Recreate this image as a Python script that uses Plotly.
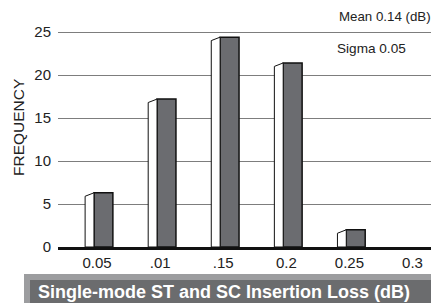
import plotly.graph_objects as go

categories = ["0.05", ".01", ".15", "0.2", "0.25", "0.3"]
frequency = [6.3, 17.2, 24.4, 21.4, 2.0, 0]
y_ticks = [0, 5, 10, 15, 20, 25]
mean_text = "Mean 0.14 (dB)"
sigma_text = "Sigma 0.05"
banner_text = "Single-mode ST and SC Insertion Loss (dB)"
y_title = "FREQUENCY"

# page has an 8px body margin; figure fills the rest of the 439x308 window
OFF = 8
PAGE_W, PAGE_H = 439, 308
W, H = PAGE_W - OFF, PAGE_H - OFF
PLOT_L, PLOT_R, PLOT_T, PLOT_B = 58, 439, 8, 247   # page pixel coords
L, R, T, B = PLOT_L - OFF, PAGE_W - PLOT_R, PLOT_T - OFF, PAGE_H - PLOT_B
PW, PH = PLOT_R - PLOT_L, PLOT_B - PLOT_T
YMAX = PH / 8.6

def px(x):
    return (x - PLOT_L) / PW

def py(y):
    return (PLOT_B - y) / PH

FONT = "Liberation Sans, Arial, sans-serif"

fig = go.Figure()

# white side faces of 3D bars (built from the data values)
xs, ys = [], []
for i, v in enumerate(frequency):
    if v <= 0:
        continue
    x0, x1 = i - 0.19, i - 0.05
    xs += [x0, x0, x1, x1, x0, None]
    ys += [0, v - 0.4, v, 0, 0, None]
fig.add_trace(go.Scatter(x=xs, y=ys, mode="lines", fill="toself",
                         fillcolor="white", line=dict(color="#111", width=1),
                         hoverinfo="skip", showlegend=False))

idx = [i for i, v in enumerate(frequency) if v > 0]
fig.add_trace(go.Bar(x=idx, y=[frequency[i] for i in idx], width=0.30, offset=-0.05,
                     marker=dict(color="#6b6c70", line=dict(color="#111", width=1.5)),
                     showlegend=False))

fig.update_layout(
    width=W, height=H, margin=dict(l=L, r=R, t=T, b=B),
    paper_bgcolor="white", plot_bgcolor="white",
    font=dict(family=FONT, size=15, color="#222"),
    xaxis=dict(range=[-0.62, 5.42], tickvals=list(range(len(categories))),
               ticktext=categories, showgrid=False, zeroline=False,
               showline=True, linecolor="#111", linewidth=2.5, ticks="",
               tickfont=dict(size=15, color="#222")),
    yaxis=dict(range=[0, YMAX], tickvals=y_ticks, showgrid=True,
               gridcolor="#7d7d7d", gridwidth=1, zeroline=False, ticks="",
               ticklabelstandoff=6, tickfont=dict(size=15, color="#222")),
    showlegend=False,
)

# banner
shapes = [
    dict(type="path", xref="paper", yref="paper",
         path=f"M {px(24)} {py(274)} L {px(439)} {py(274)} L {px(439)} {py(308)} "
              f"L {px(432)} {py(308)} L {px(432)} {py(303)} L {px(24)} {py(303)} Z",
         fillcolor="#9c9d9f", line=dict(width=0)),
    dict(type="rect", xref="paper", yref="paper", x0=px(30), x1=px(432),
         y0=py(303), y1=py(280), fillcolor="#6b6c6e", line=dict(width=0)),
]
fig.update_layout(shapes=shapes)

fig.add_annotation(xref="paper", yref="paper", x=px(36), y=py(291.5),
                   xanchor="left", yanchor="middle", showarrow=False,
                   text=f"<b>{banner_text}</b>",
                   font=dict(family=FONT, size=18, color="white"))
fig.add_annotation(xref="paper", yref="paper", x=px(432), y=py(8),
                   xanchor="right", yanchor="top", showarrow=False, borderpad=0,
                   text=mean_text, font=dict(family=FONT, size=13.3, color="#222"))
fig.add_annotation(xref="paper", yref="paper", x=px(335), y=py(48),
                   xanchor="left", yanchor="middle", showarrow=False,
                   text=sigma_text, font=dict(family=FONT, size=13.6, color="#222"))
fig.add_annotation(xref="paper", yref="paper", x=px(18), y=py(128),
                   xanchor="center", yanchor="middle", showarrow=False,
                   textangle=-90, text=y_title,
                   font=dict(family=FONT, size=15.5, color="#222"))

fig.write_html("out.html")
